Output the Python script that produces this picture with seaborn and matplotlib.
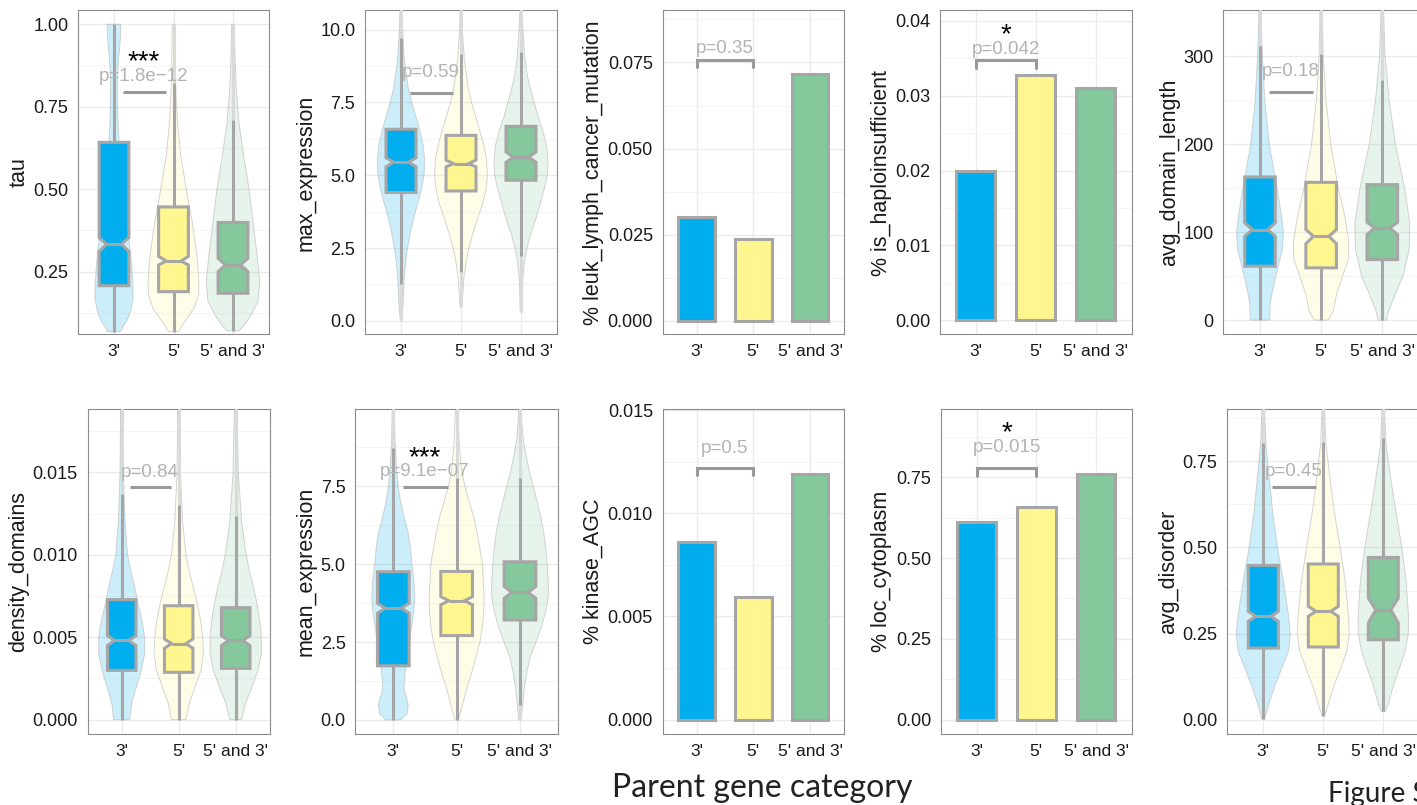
import numpy as np
import matplotlib
matplotlib.use("Agg")
import matplotlib.pyplot as plt
from matplotlib.colors import to_rgba
from matplotlib.ticker import FixedLocator
import seaborn as sns

sns.set_theme(style="white")
plt.rcParams["font.family"] = ["Liberation Sans", "DejaVu Sans"]

W, H = 1417, 805

# ---------------------------------------------------------------- data
categories = ["3'", "5'", "5' and 3'"]
fill_colors = ["#00AEEF", "#FFF68F", "#84C89C"]

# box statistics per category: [whisker_lo, q1, notch_lo, median, notch_hi, q3, whisker_hi]
tau_box = [
    [0.068, 0.207, 0.311, 0.333, 0.353, 0.642, 1.000],
    [0.068, 0.189, 0.270, 0.282, 0.296, 0.446, 0.823],
    [0.070, 0.184, 0.250, 0.270, 0.290, 0.399, 0.709],
]
max_expr_box = [
    [1.25, 4.41, 5.29, 5.45, 5.60, 6.58, 9.73],
    [1.68, 4.46, 5.29, 5.40, 5.52, 6.37, 9.18],
    [2.22, 4.83, 5.45, 5.62, 5.80, 6.68, 9.23],
]
domain_len_box = [
    [0.0, 61.4, 95.5, 103.0, 110.6, 162.9, 311.4],
    [0.0, 59.5, 87.0, 95.5, 103.0, 156.8, 302.7],
    [0.0, 68.9, 97.3, 104.9, 111.4, 154.2, 273.5],
]
density_box = [
    [0.0, 0.00299, 0.00449, 0.00481, 0.00509, 0.00728, 0.01371],
    [0.0, 0.00287, 0.00433, 0.00461, 0.00489, 0.00691, 0.01304],
    [0.0, 0.00311, 0.00449, 0.00481, 0.00509, 0.00679, 0.01233],
]
mean_expr_box = [
    [0.00, 1.74, 3.43, 3.59, 3.75, 4.76, 8.73],
    [0.00, 2.71, 3.70, 3.83, 3.96, 4.77, 7.77],
    [0.48, 3.21, 3.91, 4.10, 4.29, 5.08, 7.77],
]
disorder_box = [
    [0.002, 0.208, 0.2855, 0.300, 0.3145, 0.448, 0.803],
    [0.0116, 0.211, 0.300, 0.3145, 0.329, 0.452, 0.805],
    [0.024, 0.232, 0.281, 0.319, 0.353, 0.471, 0.818],
]

# violin density profiles: sample levels and relative density at each level
tau_vy = [
    [0.068, 0.08, 0.10, 0.13, 0.17, 0.22, 0.30, 0.40, 0.50, 0.60, 0.70, 0.80, 0.85, 0.90, 0.93, 0.97, 1.00],
    [0.068, 0.085, 0.11, 0.14, 0.18, 0.22, 0.30, 0.40, 0.50, 0.60, 0.70, 0.80, 0.90, 1.00],
    [0.07, 0.09, 0.12, 0.16, 0.22, 0.30, 0.40, 0.50, 0.60, 0.70, 0.80, 0.90, 1.00],
]
tau_vd = [
    [20, 25, 38, 50, 57, 56, 50, 38, 26, 18, 12, 10, 11, 14, 17, 20, 20],
    [15, 25, 42, 62, 75, 76, 70, 56, 38, 22, 12, 7, 5, 4],
    [18, 35, 55, 75, 80, 72, 60, 48, 32, 18, 10, 6, 4],
]
max_expr_vy = [
    [0.0, 0.5, 1.0, 1.5, 2.0, 2.5, 3.0, 3.5, 4.0, 4.5, 5.0, 5.5, 6.0, 6.5, 7.0, 7.5, 8.0, 9.0, 10.0, 11.0],
    [0.48, 1.0, 1.5, 2.0, 2.5, 3.0, 3.5, 4.0, 4.5, 5.0, 5.5, 6.0, 6.5, 7.0, 7.5, 8.0, 9.0, 10.0, 11.0],
    [0.31, 0.5, 1.0, 1.5, 2.0, 2.5, 3.0, 3.5, 4.0, 4.5, 5.0, 5.5, 6.0, 6.5, 7.0, 7.5, 8.0, 8.5, 9.0, 10.0, 11.0],
]
max_expr_vd = [
    [2, 6, 8, 10, 14, 20, 28, 38, 50, 62, 70, 72, 68, 58, 46, 33, 22, 10, 5, 2],
    [3, 6, 9, 15, 24, 36, 50, 65, 76, 80, 78, 70, 58, 45, 32, 22, 10, 4, 2],
    [2, 3, 4, 6, 10, 18, 30, 45, 58, 70, 80, 82, 78, 67, 52, 40, 28, 18, 12, 6, 2],
]
domain_len_vy = [
    [0, 20, 40, 60, 80, 100, 120, 150, 200, 250, 300, 320, 360],
    [0, 10, 30, 50, 70, 90, 120, 150, 200, 250, 300, 360],
    [0, 10, 30, 50, 80, 110, 150, 200, 250, 300, 360],
]
domain_len_vd = [
    [28, 30, 40, 52, 65, 68, 62, 50, 27, 14, 7, 5, 3],
    [20, 35, 45, 62, 80, 80, 68, 50, 28, 14, 6, 3],
    [12, 18, 38, 60, 78, 80, 65, 38, 20, 8, 3],
]
density_vy = [
    [0.0, 0.001, 0.002, 0.003, 0.004, 0.005, 0.006, 0.007, 0.008, 0.009, 0.010, 0.012, 0.015, 0.020],
    [0.0, 0.001, 0.002, 0.003, 0.004, 0.005, 0.006, 0.007, 0.008, 0.009, 0.010, 0.012, 0.015, 0.020],
    [0.0, 0.001, 0.002, 0.003, 0.004, 0.005, 0.006, 0.007, 0.008, 0.009, 0.010, 0.012, 0.015, 0.020],
]
density_vd = [
    [25, 30, 45, 60, 70, 70, 62, 50, 40, 28, 18, 10, 5, 3],
    [22, 32, 50, 68, 75, 73, 67, 57, 45, 32, 22, 12, 5, 3],
    [18, 30, 50, 68, 78, 78, 73, 65, 55, 42, 32, 18, 8, 3],
]
mean_expr_vy = [
    [0.0, 0.2, 0.5, 1.0, 1.5, 2.0, 2.5, 3.0, 3.5, 4.0, 4.5, 5.0, 5.5, 6.0, 6.5, 7.0, 7.5, 8.0, 9.0, 10.2],
    [0.0, 0.5, 1.0, 1.5, 2.0, 2.5, 3.0, 3.5, 4.0, 4.5, 5.0, 5.5, 6.0, 6.5, 7.0, 7.5, 8.0, 9.0, 10.2],
    [0.0, 0.5, 1.0, 1.5, 2.0, 2.5, 3.0, 3.5, 4.0, 4.5, 5.0, 5.5, 6.0, 6.5, 7.0, 7.5, 8.0, 8.5, 9.0, 9.5, 10.2],
]
mean_expr_vd = [
    [22, 42, 45, 32, 35, 42, 48, 55, 62, 65, 62, 56, 52, 45, 33, 22, 15, 10, 5, 3],
    [5, 18, 30, 45, 58, 70, 78, 82, 83, 80, 78, 70, 62, 52, 38, 25, 15, 7, 3],
    [4, 8, 13, 20, 30, 48, 65, 78, 86, 85, 82, 78, 72, 63, 52, 40, 28, 18, 10, 6, 3],
]
disorder_vy = [
    [0.002, 0.05, 0.10, 0.15, 0.20, 0.25, 0.30, 0.40, 0.50, 0.60, 0.70, 0.80, 0.92],
    [0.0116, 0.05, 0.10, 0.15, 0.20, 0.25, 0.30, 0.40, 0.50, 0.60, 0.70, 0.80, 0.92],
    [0.024, 0.05, 0.10, 0.15, 0.20, 0.25, 0.30, 0.40, 0.50, 0.60, 0.70, 0.80, 0.92],
]
disorder_vd = [
    [4, 18, 35, 55, 75, 80, 75, 60, 42, 28, 18, 8, 3],
    [4, 16, 32, 52, 70, 77, 75, 65, 50, 33, 20, 8, 3],
    [6, 16, 30, 48, 65, 74, 75, 68, 55, 38, 22, 8, 3],
]

# fraction of genes with each annotation
leuk_values = [0.0300, 0.0237, 0.0716]
haplo_values = [0.0200, 0.0328, 0.0311]
kinase_values = [0.0086, 0.00595, 0.0119]
cyto_values = [0.612, 0.658, 0.761]

# y tick values and labels
tau_ticks = [0.25, 0.50, 0.75, 1.00]
tau_labels = ["0.25", "0.50", "0.75", "1.00"]
max_expr_ticks = [0.0, 2.5, 5.0, 7.5, 10.0]
max_expr_labels = ["0.0", "2.5", "5.0", "7.5", "10.0"]
leuk_ticks = [0.0, 0.025, 0.050, 0.075]
leuk_labels = ["0.000", "0.025", "0.050", "0.075"]
haplo_ticks = [0.0, 0.01, 0.02, 0.03, 0.04]
haplo_labels = ["0.00", "0.01", "0.02", "0.03", "0.04"]
domain_len_ticks = [0, 100, 200, 300]
domain_len_labels = ["0", "100", "200", "300"]
density_ticks = [0.0, 0.005, 0.010, 0.015]
density_labels = ["0.000", "0.005", "0.010", "0.015"]
mean_expr_ticks = [0.0, 2.5, 5.0, 7.5]
mean_expr_labels = ["0.0", "2.5", "5.0", "7.5"]
kinase_ticks = [0.0, 0.005, 0.010, 0.015]
kinase_labels = ["0.000", "0.005", "0.010", "0.015"]
cyto_ticks = [0.0, 0.25, 0.50, 0.75]
cyto_labels = ["0.00", "0.25", "0.50", "0.75"]
disorder_ticks = [0.0, 0.25, 0.50, 0.75]
disorder_labels = ["0.00", "0.25", "0.50", "0.75"]

# ---------------------------------------------------------------- style
BOX_GREY = "#A6A6A6"
OUTLIER_GREY = "#DADADA"
SIG_GREY = "#9A9A9A"
PTEXT_GREY = "#B3B3B3"

fig = plt.figure(figsize=(W / 100, H / 100), dpi=100)


def panel(left, top, right, bottom):
    return fig.add_axes([left / W, 1 - bottom / H, (right - left) / W, (bottom - top) / H])


def style_axes(ax, ylim, ticks, labels, ylabel):
    ax.set_xlim(-0.6, 2.6)
    ax.set_ylim(*ylim)
    ax.set_xticks(range(len(categories)))
    ax.set_xticklabels(categories, fontsize=12.5)
    ax.set_yticks(ticks)
    ax.set_yticklabels(labels, fontsize=13)
    step = ticks[1] - ticks[0]
    minor = list(np.asarray(ticks) - step / 2) + [ticks[-1] + step / 2]
    ax.yaxis.set_minor_locator(FixedLocator(minor))
    ax.set_axisbelow(True)
    ax.grid(True, which="major", color="#EBEBEB", lw=1.0)
    ax.grid(True, which="minor", axis="y", color="#F5F5F5", lw=0.8)
    ax.tick_params(which="major", length=4, width=0.8, color="#7F7F7F",
                   pad=3, labelcolor="#1A1A1A")
    ax.tick_params(which="minor", length=0)
    for s in ax.spines.values():
        s.set_visible(True)
        s.set_color("#8C8C8C")
        s.set_linewidth(0.8)
    ax.set_xlabel("")
    ax.set_ylabel(ylabel, fontsize=15.5, labelpad=2.5, color="#1A1A1A")
    ax.set_facecolor("white")


def violin_box_panel(ax, box, vy, vd, ylim, ticks, labels, ylabel):
    peak = max(max(d) for d in vd)
    for i, (yv, dv) in enumerate(zip(vy, vd)):
        yv = np.asarray(yv, float)
        hw = 0.45 * np.asarray(dv, float) / peak
        ax.fill(np.r_[i - hw, (i + hw)[::-1]], np.r_[yv, yv[::-1]],
                facecolor=to_rgba(fill_colors[i], 0.2),
                edgecolor=(0.72, 0.72, 0.72, 0.6), lw=0.7, zorder=2)
        lo, hi = box[i][0], box[i][6]
        if yv[-1] > hi:
            ax.plot([i, i], [hi, yv[-1]], color=OUTLIER_GREY, lw=2.2,
                    solid_capstyle="butt", zorder=3)
        if yv[0] < lo:
            ax.plot([i, i], [yv[0], lo], color=OUTLIER_GREY, lw=2.2,
                    solid_capstyle="butt", zorder=3)
    stats = [dict(whislo=b[0], q1=b[1], cilo=b[2], med=b[3], cihi=b[4],
                  q3=b[5], whishi=b[6], fliers=[]) for b in box]
    res = ax.bxp(stats, positions=range(len(categories)), widths=0.5,
                 shownotches=True, showcaps=False, showfliers=False,
                 patch_artist=True, manage_ticks=False,
                 boxprops=dict(edgecolor=BOX_GREY, linewidth=2.2),
                 medianprops=dict(color=BOX_GREY, linewidth=2.2, solid_capstyle="butt"),
                 whiskerprops=dict(color=BOX_GREY, linewidth=2.2, solid_capstyle="butt"),
                 zorder=4)
    for patch, c in zip(res["boxes"], fill_colors):
        patch.set_facecolor(c)
        patch.set_zorder(4)
    style_axes(ax, ylim, ticks, labels, ylabel)


def bar_panel(ax, values, ylim, ticks, labels, ylabel):
    sns.barplot(x=categories, y=values, hue=categories, order=categories,
                hue_order=categories, palette=fill_colors, saturation=1,
                width=0.65, edgecolor=BOX_GREY, linewidth=2.2, legend=False,
                ax=ax, zorder=3)
    style_axes(ax, ylim, ticks, labels, ylabel)


def annotate(ax, ptext, text_y, stars, stars_y):
    ax.text(0.5, text_y, ptext, color=PTEXT_GREY, fontsize=13.5, ha="center",
            va="baseline", zorder=7)
    if stars:
        ax.text(0.5, stars_y, stars, color="black", fontsize=20, ha="center",
                va="top", zorder=7)


def sig_line(ax, y, ptext, text_y, stars=None, stars_y=None):
    ax.plot([0.15, 0.87], [y, y], color=SIG_GREY, lw=2.2, solid_capstyle="butt", zorder=6)
    annotate(ax, ptext, text_y, stars, stars_y)


def sig_bracket(ax, y, tip, ptext, text_y, stars=None, stars_y=None):
    ax.plot([0, 0, 1, 1], [tip, y, y, tip], color=SIG_GREY, lw=2.2,
            solid_joinstyle="miter", zorder=6)
    annotate(ax, ptext, text_y, stars, stars_y)


# ---------------------------------------------------------------- top row
ax = panel(78.3, 10.5, 268.7, 334.5)
violin_box_panel(ax, tau_box, tau_vy, tau_vd, (0.059, 1.042), tau_ticks, tau_labels, "tau")
sig_line(ax, 0.795, "p=1.8e\u221212", 0.828, "***", 0.926)

ax = panel(365, 10.5, 557, 334.5)
violin_box_panel(ax, max_expr_box, max_expr_vy, max_expr_vd, (-0.47, 10.66),
                 max_expr_ticks, max_expr_labels, "max_expression")
sig_line(ax, 7.84, "p=0.59", 8.375)

ax = panel(662.7, 10.5, 844, 334.5)
bar_panel(ax, leuk_values, (-0.004, 0.0901), leuk_ticks, leuk_labels,
          "% leuk_lymph_cancer_mutation")
sig_bracket(ax, 0.0758, 0.0736, "p=0.35", 0.0777)

ax = panel(940, 10.5, 1131.6, 334.5)
bar_panel(ax, haplo_values, (-0.0019, 0.0414), haplo_ticks, haplo_labels,
          "% is_haploinsufficient")
sig_bracket(ax, 0.03476, 0.0337, "p=0.042", 0.03564, "*", 0.0399)

ax = panel(1223.3, 10.5, 1419, 334.5)
violin_box_panel(ax, domain_len_box, domain_len_vy, domain_len_vd, (-16.3, 352.3),
                 domain_len_ticks, domain_len_labels, "avg_domain_length")
sig_line(ax, 259.5, "p=0.18", 277.3)

# ---------------------------------------------------------------- bottom row
ax = panel(87.5, 409, 269.9, 734)
violin_box_panel(ax, density_box, density_vy, density_vd, (-0.00087, 0.01884),
                 density_ticks, density_labels, "density_domains")
sig_line(ax, 0.01411, "p=0.84", 0.01472)

ax = panel(355.3, 409, 558, 734)
violin_box_panel(ax, mean_expr_box, mean_expr_vy, mean_expr_vd, (-0.45, 9.986),
                 mean_expr_ticks, mean_expr_labels, "mean_expression")
sig_line(ax, 7.479, "p=9.1e\u221207", 7.82, "***", 8.83)

ax = panel(662.7, 409, 844, 734)
bar_panel(ax, kinase_values, (-0.0007, 0.01506), kinase_ticks, kinase_labels,
          "% kinase_AGC")
sig_bracket(ax, 0.0122, 0.01184, "p=0.5", 0.01293)

ax = panel(940.9, 409, 1131.8, 734)
bar_panel(ax, cyto_values, (-0.0444, 0.9615), cyto_ticks, cyto_labels,
          "% loc_cytoplasm")
sig_bracket(ax, 0.7789, 0.7552, "p=0.015", 0.8274, "*", 0.926)

ax = panel(1227.3, 409, 1419.3, 734)
violin_box_panel(ax, disorder_box, disorder_vy, disorder_vd, (-0.0416, 0.902),
                 disorder_ticks, disorder_labels, "avg_disorder")
sig_line(ax, 0.6755, "p=0.45", 0.7065)

# ---------------------------------------------------------------- captions
fig.text(762 / W, 1 - 797 / H, "Parent gene category", ha="center", va="baseline",
         fontsize=23, family=["Lato", "DejaVu Sans"], color="#222222")
fig.text(1328 / W, 1 - 802 / H, "Figure S", ha="left", va="baseline",
         fontsize=20, family=["Lato", "DejaVu Sans"], color="#222222")

fig.savefig("out.png", dpi=100, facecolor="white")
